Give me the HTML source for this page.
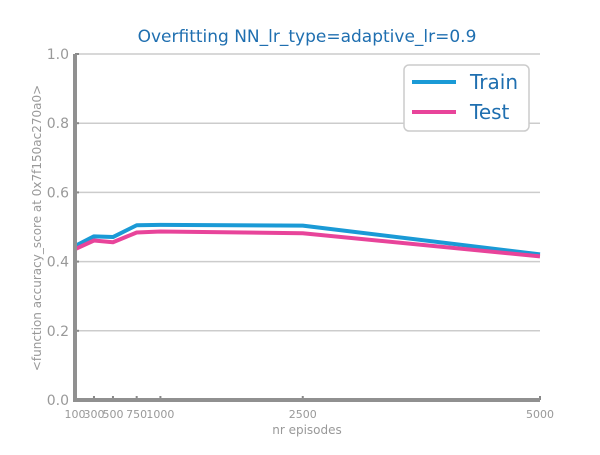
<!DOCTYPE html>
<html><head><meta charset="utf-8"><style>
body{margin:0;background:#fff;font-family:"Liberation Sans","DejaVu Sans",sans-serif}
</style></head><body>
<svg id="chart" width="600" height="450" xmlns="http://www.w3.org/2000/svg" font-family="DejaVu Sans, Liberation Sans, sans-serif">
<text x="307" y="42" text-anchor="middle" font-size="17" fill="#1f6fb0">Overfitting NN_lr_type=adaptive_lr=0.9</text>
<g id="grid"></g><g id="series"></g><g id="axes"></g>
<text x="307" y="434" text-anchor="middle" font-size="12" fill="#999">nr episodes</text>
<text transform="translate(41,228) rotate(-90)" text-anchor="middle" font-size="12" fill="#999">&lt;function accuracy_score at 0x7f150ac270a0&gt;</text>
<g>
<rect x="404" y="65" width="125" height="66" rx="5" fill="#fff" stroke="#ccc" stroke-width="1.5"/>
<line x1="412" y1="82" x2="456" y2="82" stroke="#1a9ad6" stroke-width="4"/>
<text x="470" y="89" font-size="20" fill="#1f6fb0">Train</text>
<line x1="412" y1="112" x2="456" y2="112" stroke="#e8449a" stroke-width="4"/>
<text x="470" y="119" font-size="20" fill="#1f6fb0">Test</text>
</g>
</svg>
<script>
const episodes=[100,300,500,750,1000,2500,5000];
const trainVals=[0.445,0.473,0.471,0.505,0.506,0.504,0.421];
const testVals=[0.436,0.461,0.456,0.484,0.487,0.482,0.415];
const yTicks=[0,0.2,0.4,0.6,0.8,1.0];
const xTicks=[100,300,500,750,1000,2500,5000];
const NS="http://www.w3.org/2000/svg";
const X0=75,X1=540,Y0=400,Y1=54;
const xs=v=>X0+(v-100)/(5000-100)*(X1-X0);
const ys=v=>Y0-v*(Y0-Y1);
function mk(t,a,p){const e=document.createElementNS(NS,t);for(const k in a)e.setAttribute(k,a[k]);p.appendChild(e);return e;}
const grid=document.getElementById('grid'),axes=document.getElementById('axes'),series=document.getElementById('series');
yTicks.forEach(v=>{
 const l=mk('line',{x1:X0,x2:X1,y1:ys(v),y2:ys(v),stroke:'#ccc','stroke-width':1.5},grid);
 
 
 const t=mk('text',{x:X0-6,y:ys(v)+5,'text-anchor':'end','font-size':14,fill:'#999'},axes);
 t.textContent=v.toFixed(1);
 
 
 const tk=mk('line',{x1:X0,x2:X0+4,y1:ys(v),y2:ys(v),stroke:'#888','stroke-width':2},axes);
 
 
});
xTicks.forEach(v=>{
 const t=mk('text',{x:xs(v),y:418,'text-anchor':'middle','font-size':11,fill:'#999'},axes);
 t.textContent=v;
 
 
 const tk=mk('line',{x1:xs(v),x2:xs(v),y1:Y0,y2:Y0-4,stroke:'#888','stroke-width':2},axes);
 
 
});
const ya=mk('line',{x1:X0,x2:X0,y1:Y1,y2:Y0+2,stroke:'#909090','stroke-width':4},axes);


const xa=mk('line',{x1:X0-2,x2:X1,y1:Y0,y2:Y0,stroke:'#909090','stroke-width':4},axes);


function line(vals,color,name){
 const p=mk('polyline',{points:vals.map((v,i)=>xs(episodes[i])+','+ys(v)).join(' '),fill:'none',stroke:color,'stroke-width':4,'stroke-linejoin':'round'},series);
 
 
}
line(trainVals,'#1a9ad6','train-line');
line(testVals,'#e8449a','test-line');
</script>
</body></html>
